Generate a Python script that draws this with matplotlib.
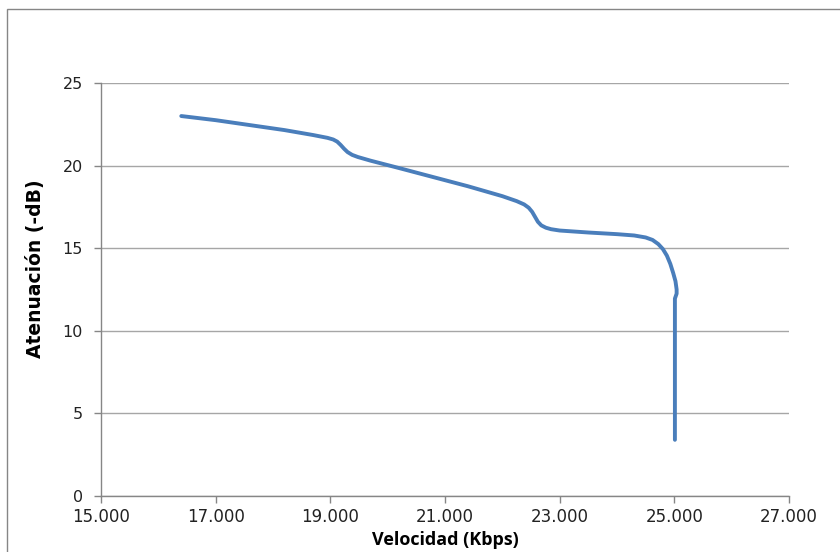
import matplotlib
matplotlib.use("Agg")
import matplotlib.pyplot as plt
from matplotlib.patches import Rectangle
from matplotlib.ticker import FuncFormatter

# Speed (Kbps) vs attenuation (-dB)
velocidad = [16400, 17000, 17600, 18200, 18700, 18950, 19050, 19120, 19180, 19240,
             19300, 19380, 19480, 19700, 20200, 20800, 21400, 22000, 22250, 22380,
             22460, 22520, 22570, 22620, 22680, 22760, 22850, 23000, 23500, 24000,
             24300, 24500, 24620, 24720, 24800, 24870, 24930, 24980, 25020, 25040,
             25040, 25010, 25010, 25010]
atenuacion = [23.0, 22.75, 22.45, 22.15, 21.85, 21.68, 21.58, 21.45, 21.25, 21.02,
              20.82, 20.65, 20.52, 20.3, 19.85, 19.3, 18.75, 18.15, 17.85, 17.65,
              17.45, 17.2, 16.9, 16.6, 16.38, 16.24, 16.15, 16.07, 15.95, 15.85,
              15.77, 15.65, 15.5, 15.25, 14.95, 14.55, 14.05, 13.5, 13.0, 12.5,
              12.25, 11.95, 8.0, 3.4]

x_ticks = [15000, 17000, 19000, 21000, 23000, 25000, 27000]
y_ticks = [0, 5, 10, 15, 20, 25]

fig = plt.figure(figsize=(8.4, 5.52), dpi=100)
ax = fig.add_axes([101 / 840, 1 - 496 / 552, 688 / 840, 413 / 552])

ax.plot(velocidad, atenuacion, color="#4A7EBB", linewidth=2.8,
        solid_capstyle="round", solid_joinstyle="round")

ax.set_xlim(15000, 27000)
ax.set_ylim(0, 25)
ax.set_xticks(x_ticks)
ax.set_yticks(y_ticks)
ax.xaxis.set_major_formatter(FuncFormatter(lambda v, p: f"{int(v):,}".replace(",", ".")))

ax.grid(axis="y", color="#A6A6A6", linewidth=1)
ax.set_axisbelow(True)
for side in ("top", "right"):
    ax.spines[side].set_visible(False)
for side in ("left", "bottom"):
    ax.spines[side].set_color("#868686")
    ax.spines[side].set_linewidth(1)

ax.tick_params(axis="both", direction="out", length=5, width=1, color="#868686")
ax.tick_params(axis="x", labelsize=12, pad=4, labelcolor="#222222")
ax.tick_params(axis="y", labelsize=11.5, pad=8, labelcolor="#222222")

ax.set_xlabel("Velocidad (Kbps)", fontsize=13, fontweight="bold",
              family=["Open Sans", "DejaVu Sans"], labelpad=3)
ax.set_ylabel("Atenuación (-dB)", fontsize=13.5, fontweight="bold",
              family=["DejaVu Sans"])
ax.yaxis.set_label_coords((45 - 101) / 688, (496 - 269) / 413)

# chart-area frame
fig.patches.append(Rectangle((7 / 840, -0.05), 1.0, 1 - 9 / 552 + 0.05,
                             transform=fig.transFigure, fill=False,
                             edgecolor="#868686", linewidth=1))

fig.savefig("out.png", dpi=100)
